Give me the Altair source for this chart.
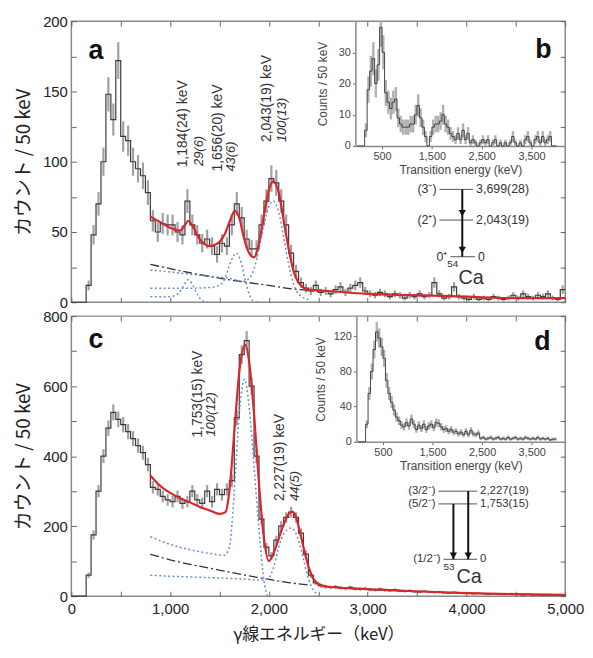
import altair as alt
import pandas as pd

BIN = 50
FONT = "Liberation Sans"
JP = "Noto Sans CJK JP"
W = 499

# ---------------- panel a : 54Ca (counts / 50 keV, bins start at 0 keV) ----------------
a_counts = [0, 0, 0, 12, 48, 70, 100, 148, 130, 172, 118, 115, 100, 95, 90, 78, 58, 50, 56, 55,
            55, 50, 48, 72, 55, 48, 42, 45, 40, 34, 42, 40, 55, 70, 60, 45, 38, 38, 55, 72,
            88, 85, 72, 55, 35, 22, 14, 10, 8, 12, 7, 8, 6, 9, 11, 7, 10, 12, 14, 8,
            6, 5, 7, 6, 4, 6, 5, 3, 5, 4, 6, 4, 5, 14, 6, 3, 4, 11, 4, 3,
            2, 4, 2, 3, 2, 4, 3, 2, 3, 5, 3, 6, 4, 3, 5, 4, 6, 3, 2, 9]
a_fit_E = [800, 900, 1000, 1100, 1150, 1184, 1230, 1300, 1400, 1500, 1550, 1600, 1656, 1700, 1750,
           1800, 1850, 1900, 1950, 2000, 2043, 2100, 2150, 2200, 2250, 2300, 2400, 2600, 3000,
           3500, 4000, 4500, 5000]
a_fit_c = [61, 57, 53, 51, 55, 58, 54, 45, 40, 43, 48, 57, 65, 60, 45, 35, 32, 42, 62, 80, 86, 78,
           58, 38, 22, 14, 9, 8, 6, 5, 4, 3, 3]
a_bg_E = [800, 1200, 1600, 2000, 2300, 2500]
a_bg_c = [27, 21, 16, 12, 9, 8]
a_r2043_E = [800, 1000, 1200, 1400, 1600, 1750, 1800, 1850, 1900, 1950, 2000, 2043, 2100, 2150,
             2200, 2250, 2300, 2400]
a_r2043_c = [23, 21.5, 20, 18.5, 17, 15, 17, 24, 38, 55, 68, 72, 64, 46, 27, 13, 6, 2]
a_r1656_E = [800, 1000, 1200, 1400, 1500, 1550, 1600, 1669, 1720, 1760, 1800, 1840, 1900]
a_r1656_c = [10, 10, 10, 10.5, 12, 16, 26, 35, 28, 16, 6, 1, 0]
a_r1184_E = [800, 1000, 1080, 1130, 1184, 1230, 1280, 1330, 1400]
a_r1184_c = [4, 4, 6, 11, 16, 12, 5, 1, 0]

# inset b (counts / 50 keV)
b_counts = [0, 0, 0, 5, 18, 24, 28, 20, 26, 38, 30, 17, 14, 12, 14, 15, 9, 7, 6, 6,
            6, 7, 7, 10, 13, 9, 6, 3, 0, 3, 6, 7, 7, 8, 10, 7, 6, 4, 3, 2,
            4, 2, 5, 2, 4, 1, 2, 1, 0, 1, 2, 1, 2, 0, 1, 2, 0, 1, 0, 1,
            0, 1, 3, 1, 0, 1, 0, 2, 3, 1, 0, 2, 3, 1, 3, 1, 2, 3, 0, 0]

# ---------------- panel c : 53Ca ----------------
c_counts = [0, 0, 0, 60, 175, 300, 400, 480, 525, 505, 490, 470, 450, 430, 410, 376, 311, 305, 285, 275,
            270, 285, 265, 270, 300, 275, 265, 300, 270, 305, 290, 305, 330, 510, 690, 730, 600, 400, 220, 140,
            115, 160, 200, 225, 240, 225, 180, 120, 60, 38, 30, 27, 25, 27, 24, 22, 25, 21, 20, 22,
            19, 18, 20, 17, 16, 18, 15, 14, 16, 13, 12, 14, 12, 11, 12, 10, 9, 11, 9, 8,
            9, 7, 8, 7, 6, 7, 6, 5, 6, 5, 5, 4, 5, 4, 4, 3, 4, 3, 3, 3]
c_fit_E = [800, 900, 1000, 1100, 1200, 1300, 1400, 1500, 1560, 1600, 1650, 1700, 1760, 1800, 1850,
           1900, 1950, 2000, 2050, 2100, 2150, 2200, 2230, 2270, 2300, 2350, 2400, 2450, 2500, 2600,
           3000, 3500, 4000, 4500, 5000]
c_fit_c = [345, 315, 295, 280, 268, 255, 245, 235, 240, 300, 470, 640, 718, 670, 520, 320, 165, 100,
           125, 165, 205, 235, 242, 230, 200, 140, 85, 50, 35, 27, 20, 14, 9, 6, 4]
c_bg_E = [800, 1000, 1200, 1400, 1600, 1800, 2000, 2200, 2400]
c_bg_c = [120, 104, 91, 80, 69, 58, 48, 39, 32]
c_r1753_E = [800, 1000, 1200, 1400, 1550, 1600, 1650, 1700, 1753, 1800, 1850, 1900, 1950, 1985]
c_r1753_c = [170, 148, 133, 122, 117, 140, 300, 520, 620, 540, 370, 190, 45, 0]
c_r2227_E = [800, 1000, 1200, 1400, 1600, 1800, 1900, 1950, 2000, 2050, 2100, 2150, 2227, 2300,
             2350, 2400, 2450, 2500]
c_r2227_c = [60, 57, 55, 53, 51, 48, 46, 46, 52, 85, 140, 178, 195, 160, 105, 50, 18, 4]

# inset d
d_counts = [0, 0, 0, 20, 55, 80, 105, 125, 118, 108, 95, 70, 55, 45, 36, 28, 24, 19, 17, 22,
            18, 26, 20, 14, 19, 15, 20, 14, 18, 20, 16, 22, 21, 17, 14, 15, 12, 14, 11, 12,
            9, 11, 8, 12, 8, 13, 9, 8, 10, 4, 5, 3, 4, 5, 3, 4, 5, 3, 4, 3,
            5, 3, 4, 5, 3, 4, 3, 5, 4, 3, 4, 3, 5, 3, 4, 3, 4, 2, 3, 3]

# ---------------- annotations (text + layout in data units) ----------------
a_peaks = [  # text, E, c(start), italic
    ("1,184(24) keV", 1132, 96, False), ("29(6)", 1293, 97, True),
    ("1,656(20) keV", 1483, 93, False), ("43(6)", 1613, 93, True),
    ("2,043(19) keV", 1984, 114, False), ("100(13)", 2134, 114, True)]
c_peaks = [
    ("1,753(15) keV", 1283, 453, False), ("100(12)", 1413, 456, True),
    ("2,227(19) keV", 2114, 272, False), ("44(5)", 2265, 272, True)]

a_levels = [("(3⁻)", "3,699(28)", 3727, 4068, 80.3),
            ("(2⁺)", "2,043(19)", 3727, 4068, 58.5),
            ("0⁺", "0", 3838, 4088, 32.4)]
a_arrows = [(3958, 80.3, 32.4)]
a_heads = [(3958, 63.4), (3958, 37.3)]
a_nucl = ("54", 3918, 27.5, "Ca", 4048, 17.5)

c_levels = [("(3/2⁻)", "2,227(19)", 3717, 4108, 300),
            ("(5/2⁻)", "1,753(15)", 3717, 4108, 263.6),
            ("(1/2⁻)", "0", 3768, 4108, 105.4)]
c_arrows = [(3868, 263.6, 105.4), (4018, 300, 105.4)]
c_heads = [(3868, 116), (4018, 116)]
c_nucl = ("53", 3878, 84, "Ca", 4028, 56)


def step_frame(counts):
    E = [i * BIN for i in range(len(counts))] + [len(counts) * BIN]
    c = list(counts) + [counts[-1]]
    return pd.DataFrame({"E": E, "c": c})


def err_frame(counts):
    return pd.DataFrame({"Ec": [i * BIN + BIN / 2 for i in range(len(counts))], "c": counts})


def curves_frame(curves):
    rows = []
    for name, Es, cs in curves:
        for e, v in zip(Es, cs):
            rows.append({"E": e, "c": v, "k": name})
    return pd.DataFrame(rows)


def build_panel(counts, fit, comps, bg, peaks, letters, levels, arrows, heads, nucl, lvfont,
                inset_counts, inset_left, inset_bottom, iymax, iyvals, ititlepad,
                ymax, ystep, H, bottom):
    xvals = list(range(0, 5001, 500))
    yvals = list(range(0, ymax + 1, ystep // 2))

    def xs():
        return alt.Scale(domain=[0, 5000], nice=False, zero=False)

    def ys():
        return alt.Scale(domain=[0, ymax], nice=False, zero=True)

    xb = dict(orient="bottom", offset=-5, tickSize=5, domain=False, grid=False, values=xvals,
              tickColor="#666", labelOverlap=False, labelFlush=False)
    if bottom:
        xb.update(labels=True, format=",d",
                  labelExpr="datum.value % 1000 == 0 ? datum.label : ''",
                  labelFontSize=15, labelFont=FONT, labelColor="#222", labelPadding=5,
                  title="γ線エネルギー（keV）", titleFont=JP, titleFontSize=17,
                  titleFontWeight="normal", titleColor="#222", titlePadding=11)
    else:
        xb.update(labels=False, title=None)
    x_bottom = alt.Axis(**xb)
    x_top = alt.Axis(orient="top", offset=-5, tickSize=5, domain=False, grid=False, values=xvals,
                     labels=False, title=None, tickColor="#666")
    y_left = alt.Axis(orient="left", offset=-5, tickSize=5, domain=False, grid=False, values=yvals,
                      labelExpr=f"datum.value % {ystep} == 0 ? datum.label : ''",
                      labelFontSize=15, labelFont=FONT, labelColor="#222", labelPadding=4,
                      labelOverlap=False, labelFlush=False, tickColor="#666",
                      title="カウント / 50 keV", titleFont=JP, titleFontSize=19,
                      titleFontWeight="normal", titleColor="#222", titlePadding=9)
    y_right = alt.Axis(orient="right", offset=-5, tickSize=5, domain=False, grid=False, values=yvals,
                       labels=False, title=None, tickColor="#666")

    def X(f):
        return alt.X(f, type="quantitative", scale=xs(), axis=None)

    def Y(f):
        return alt.Y(f, type="quantitative", scale=ys(), axis=None)

    err = alt.Chart(err_frame(counts)).transform_filter("datum.c > 0").transform_calculate(
        lo="datum.c - sqrt(datum.c)", hi=f"min(datum.c + sqrt(datum.c), {ymax})"
    ).mark_rule(color="#a0a0a0", strokeWidth=2.2).encode(
        x=alt.X("Ec:Q", scale=xs(), axis=x_top),
        y=alt.Y("lo:Q", scale=ys(), axis=y_right), y2="hi:Q")
    hist = alt.Chart(step_frame(counts)).mark_line(
        interpolate="step-after", color="#3a3a3a", strokeWidth=1.2).encode(
        x=alt.X("E:Q", scale=xs(), axis=x_bottom),
        y=alt.Y("c:Q", scale=ys(), axis=y_left))
    bgl = alt.Chart(curves_frame([bg])).mark_line(
        color="#333", strokeWidth=1.3, strokeDash=[9, 3, 2, 3], interpolate="monotone").encode(
        x=X("E"), y=Y("c"))
    compl = alt.Chart(curves_frame(comps)).mark_line(
        color="#6a8fd0", strokeWidth=1.5, strokeDash=[2, 2.5], interpolate="monotone").encode(
        x=X("E"), y=Y("c"), detail="k:N")
    fitl = alt.Chart(curves_frame([fit])).mark_line(
        color="#d8262b", strokeWidth=2.2, interpolate="monotone").encode(x=X("E"), y=Y("c"))

    pk = pd.DataFrame([{"t": t, "E": e, "c": c, "it": it} for t, e, c, it in peaks])
    pk_reg = alt.Chart(pk).transform_filter("!datum.it").mark_text(
        angle=270, align="left", baseline="middle", fontSize=14, font=FONT, color="#333").encode(
        x=X("E"), y=Y("c"), text="t:N")
    pk_it = alt.Chart(pk).transform_filter("datum.it").mark_text(
        angle=270, align="left", baseline="middle", fontSize=13, font=FONT, fontStyle="italic",
        color="#333").encode(x=X("E"), y=Y("c"), text="t:N")

    lt = pd.DataFrame([{"t": t, "E": e, "c": c} for t, e, c in letters])
    letl = alt.Chart(lt).mark_text(fontSize=27, fontWeight="bold", font=FONT, color="#111",
                                   align="center", baseline="middle").encode(
        x=X("E"), y=Y("c"), text="t:N")

    lv = pd.DataFrame([{"l": l, "r": r, "E0": e0, "E1": e1, "c": c,
                        "El": e0 - 30, "Er": e1 + 30} for l, r, e0, e1, c in levels])
    lvl = alt.Chart(lv).mark_rule(color="#555", strokeWidth=1).encode(
        x=X("E0"), x2="E1:Q", y=Y("c"))
    lvl_l = alt.Chart(lv).mark_text(align="right", baseline="middle", fontSize=lvfont, font=FONT,
                                    color="#333").encode(x=X("El"), y=Y("c"), text="l:N")
    lvl_r = alt.Chart(lv).mark_text(align="left", baseline="middle", fontSize=lvfont, font=FONT,
                                    color="#333").encode(x=X("Er"), y=Y("c"), text="r:N")
    ar = pd.DataFrame([{"E": e, "c0": c0, "c1": c1} for e, c0, c1 in arrows])
    arl = alt.Chart(ar).mark_rule(color="#111", strokeWidth=2).encode(
        x=X("E"), y=Y("c0"), y2="c1:Q")
    hd = pd.DataFrame([{"E": e, "c": c} for e, c in heads])
    hdl = alt.Chart(hd).mark_point(shape="triangle-down", filled=True, size=55, color="#111",
                                   opacity=1).encode(x=X("E"), y=Y("c"))
    sup, se, sc, el, ee, ec = nucl
    nu = pd.DataFrame([{"t": sup, "E": se, "c": sc}])
    nul1 = alt.Chart(nu).mark_text(align="right", baseline="middle", fontSize=10, font=FONT,
                                   color="#333").encode(x=X("E"), y=Y("c"), text="t:N")
    ne = pd.DataFrame([{"t": el, "E": ee, "c": ec}])
    nul2 = alt.Chart(ne).mark_text(align="center", baseline="middle", fontSize=20, font=FONT,
                                   color="#333").encode(x=X("E"), y=Y("c"), text="t:N")

    # ---- inset ----
    def ixs():
        return alt.Scale(domain=[-36, 4176], range=[inset_left, W], nice=False, zero=False)

    def iys():
        return alt.Scale(domain=[0, iymax], range=[inset_bottom, 0], nice=False, zero=True)

    ix_axis = alt.Axis(orient="bottom", offset=-(H - inset_bottom), values=[500, 1500, 2500, 3500],
                       format=",d", tickSize=3, grid=False, domainColor="#8a8a8a", domainWidth=1.5,
                       tickColor="#666", labelFontSize=11, labelFont=FONT, labelColor="#444",
                       labelPadding=2, labelFlush=False, labelOverlap=False,
                       title="Transition energy (keV)", titleFont=FONT, titleFontSize=12,
                       titleFontWeight="normal", titleColor="#444", titlePadding=3)
    iy_axis = alt.Axis(orient="left", offset=-inset_left, values=iyvals, tickSize=3, grid=False,
                       domainColor="#8a8a8a", domainWidth=1.5, tickColor="#666",
                       labelFontSize=11, labelFont=FONT, labelColor="#444", labelPadding=2,
                       labelFlush=False, labelOverlap=False,
                       title="Counts / 50 keV", titleFont=FONT, titleFontSize=12,
                       titleFontWeight="normal", titleColor="#444", titlePadding=ititlepad)
    ierr = alt.Chart(err_frame(inset_counts)).transform_filter("datum.c > 0").transform_calculate(
        lo="datum.c - sqrt(datum.c)", hi=f"min(datum.c + sqrt(datum.c), {iymax})"
    ).mark_rule(color="#b0b0b0", strokeWidth=2.4).encode(
        x=alt.X("Ec:Q", scale=ixs(), axis=None), y=alt.Y("lo:Q", scale=iys(), axis=None), y2="hi:Q")
    ihist = alt.Chart(step_frame(inset_counts)).mark_line(
        interpolate="step-after", color="#444", strokeWidth=1).encode(
        x=alt.X("E:Q", scale=ixs(), axis=ix_axis), y=alt.Y("c:Q", scale=iys(), axis=iy_axis))

    layers = [err, hist, bgl, compl, fitl, pk_reg, pk_it, letl,
              lvl, lvl_l, lvl_r, arl, hdl, nul1, nul2, ierr, ihist]
    return alt.layer(*layers).resolve_scale(x="independent", y="independent").properties(
        width=W, height=H)


panel_a = build_panel(
    a_counts, ("fit", a_fit_E, a_fit_c),
    [("r2043", a_r2043_E, a_r2043_c), ("r1656", a_r1656_E, a_r1656_c), ("r1184", a_r1184_E, a_r1184_c)],
    ("bg", a_bg_E, a_bg_c), a_peaks, [("a", 250, 178.9), ("b", 4780, 179.6)],
    a_levels, a_arrows, a_heads, a_nucl, 12.5,
    b_counts, 287, 126, 40, [0, 10, 20, 30], 9,
    200, 50, 284, False)

panel_c = build_panel(
    c_counts, ("fit", c_fit_E, c_fit_c),
    [("r1753", c_r1753_E, c_r1753_c), ("r2227", c_r2227_E, c_r2227_c)],
    ("bg", c_bg_E, c_bg_c), c_peaks, [("c", 250, 732.5), ("d", 4770, 727)],
    c_levels, c_arrows, c_heads, c_nucl, 11.5,
    d_counts, 288, 127, 143, [0, 40, 80, 120], 6,
    800, 200, 283, True)

chart = alt.vconcat(panel_a, panel_c, spacing=14, bounds="flush").properties(
    padding={"left": 6, "top": 2, "right": 0, "bottom": 0}
).configure_view(stroke="#8a8a8a", strokeWidth=1.5)

chart.save("out.html", embed_options={"renderer": "svg", "actions": False})
